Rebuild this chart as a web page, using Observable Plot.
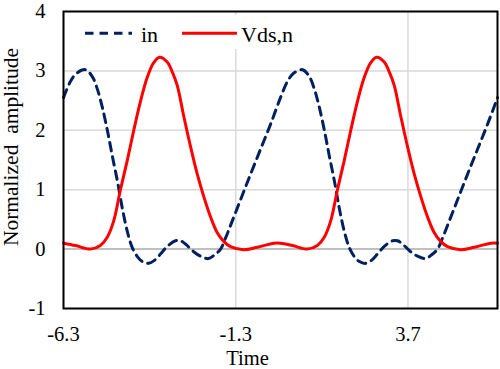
<!DOCTYPE html>
<html>
<head>
<meta charset="utf-8">
<script src="https://cdn.jsdelivr.net/npm/d3@7"></script>
<script src="https://cdn.jsdelivr.net/npm/@observablehq/plot@0.6"></script>
<style>
  html, body { margin: 0; padding: 0; background: white; }
  #wrap { position: relative; width: 500px; height: 369px; }
  #legend { position: absolute; left: 70px; top: 15px; width: 245px; height: 34px; background: white; }
</style>
</head>
<body>
<div id="wrap"></div>
<script>
// ---- data ----
const inTime = [-6.30, -6.10, -5.92, -5.66, -5.46, -5.31, -5.17, -5.02, -4.88, -4.73, -4.59, -4.44, -4.30, -4.15, -4.01, -3.83, -3.66, -3.48, -3.28, -3.05, -2.90, -2.73, -2.53, -2.32, -2.09, -1.92, -1.74, -1.60, -1.45, -1.16, -0.87, -0.58, -0.29,
  0.00, 0.20, 0.38, 0.64, 0.84, 0.99, 1.13, 1.28, 1.42, 1.57, 1.71, 1.86, 2.00, 2.15, 2.29, 2.47, 2.64, 2.82, 3.02, 3.25, 3.40, 3.57, 3.77, 3.98, 4.21, 4.38, 4.56, 4.70, 4.85, 5.14, 5.43, 5.72, 6.01, 6.30];
const inValue = [2.55, 2.82, 2.96, 3.02, 2.90, 2.68, 2.38, 1.98, 1.56, 1.13, 0.68, 0.28, 0.02, -0.13, -0.21, -0.24, -0.19, -0.08, 0.05, 0.14, 0.14, 0.07, -0.04, -0.12, -0.16, -0.10, 0.00, 0.18, 0.40, 0.83, 1.26, 1.68, 2.10,
  2.55, 2.82, 2.96, 3.02, 2.90, 2.68, 2.38, 1.98, 1.56, 1.13, 0.68, 0.28, 0.02, -0.13, -0.21, -0.24, -0.19, -0.08, 0.05, 0.14, 0.14, 0.07, -0.04, -0.12, -0.16, -0.10, 0.00, 0.18, 0.40, 0.83, 1.26, 1.68, 2.10, 2.55];

const vdsTime = [-6.30, -5.95, -5.52, -5.23, -5.03, -4.84, -4.65, -4.45, -4.26, -4.06, -3.87, -3.68, -3.51, -3.29, -3.14, -3.00, -2.81, -2.61, -2.42, -2.22, -2.03, -1.84, -1.65, -1.45, -1.07, -0.68, -0.19,
  0.00, 0.35, 0.78, 1.07, 1.27, 1.46, 1.65, 1.85, 2.04, 2.24, 2.43, 2.62, 2.79, 3.01, 3.16, 3.30, 3.49, 3.69, 3.88, 4.08, 4.27, 4.46, 4.65, 4.85, 5.23, 5.62, 6.11, 6.30];
const vdsValue = [0.10, 0.06, 0.00, 0.06, 0.20, 0.48, 0.99, 1.49, 2.00, 2.50, 2.89, 3.14, 3.23, 3.15, 2.98, 2.76, 2.24, 1.72, 1.27, 0.87, 0.54, 0.28, 0.13, 0.04, -0.01, 0.03, 0.10,
  0.10, 0.06, 0.00, 0.06, 0.20, 0.48, 0.99, 1.49, 2.00, 2.50, 2.89, 3.14, 3.23, 3.15, 2.98, 2.76, 2.24, 1.72, 1.27, 0.87, 0.54, 0.28, 0.13, 0.04, -0.01, 0.03, 0.10, 0.10];

const xTicks = [-6.3, -1.3, 3.7];
const yTicks = [-1, 0, 1, 2, 3, 4];
const seriesNames = ["in", "Vds,n"];
const xLabel = "Time";
const yLabel = "Normalized  amplitude";

const inData = inTime.map((t, i) => ({t, v: inValue[i]}));
const vdsData = vdsTime.map((t, i) => ({t, v: vdsValue[i]}));

const FONT = "'Liberation Serif', 'Times New Roman', serif";
const NAVY = "#002060";
const RED = "#ff0000";

const chart = Plot.plot({
  width: 500,
  height: 369,
  marginLeft: 63,
  marginRight: 3,
  marginTop: 11,
  marginBottom: 61,
  style: {fontFamily: FONT, fontSize: "20px", color: "black", background: "white"},
  x: {domain: [-6.3, 6.3]},
  y: {domain: [-1, 4]},
  marks: [
    Plot.gridY(yTicks, {stroke: "#d9d9d9", strokeOpacity: 1, strokeWidth: 1.5}),
    Plot.gridX(xTicks, {stroke: "#d9d9d9", strokeOpacity: 1, strokeWidth: 1.5}),
    Plot.ruleY([0], {stroke: "#bfbfbf", strokeWidth: 2}),
    Plot.line(inData, {x: "t", y: "v", stroke: NAVY, strokeWidth: 3, strokeDasharray: "8.5,6", curve: "catmull-rom"}),
    Plot.line(vdsData, {x: "t", y: "v", stroke: RED, strokeWidth: 3, curve: "catmull-rom"}),
    Plot.frame({stroke: "black", strokeWidth: 2}),
    Plot.axisX(xTicks, {tickSize: 0, tickPadding: 18, fontSize: 20.5, tickFormat: d => d.toFixed(1), label: null}),
    Plot.axisY(yTicks, {tickSize: 0, tickPadding: 18, fontSize: 20.5, tickFormat: d => String(d), label: null}),
    Plot.text([xLabel], {frameAnchor: "bottom", textAnchor: "middle", dx: -33, dy: 50, fontSize: 20.5, lineAnchor: "middle", fill: "black"}),
    Plot.text([yLabel], {frameAnchor: "left", textAnchor: "middle", dx: -52, dy: -13, rotate: -90, fontSize: 21.5, lineAnchor: "middle", fill: "black"})
  ]
});

const wrap = document.getElementById("wrap");
wrap.appendChild(chart);

// legend (inside plot area, white box)
const legend = document.createElement("div");
legend.id = "legend";
legend.innerHTML = `
<svg width="245" height="34" style="font-family:${FONT};font-size:22px">
  <line x1="15" x2="62" y1="18.3" y2="18.3" stroke="${NAVY}" stroke-width="3" stroke-dasharray="8.5,6"></line>
  <text x="71" y="26.5" fill="black">${seriesNames[0]}</text>
  <line x1="112" x2="167" y1="18.3" y2="18.3" stroke="${RED}" stroke-width="3"></line>
  <text x="171" y="26.5" fill="black">${seriesNames[1]}</text>
</svg>`;
wrap.appendChild(legend);
</script>
</body>
</html>
